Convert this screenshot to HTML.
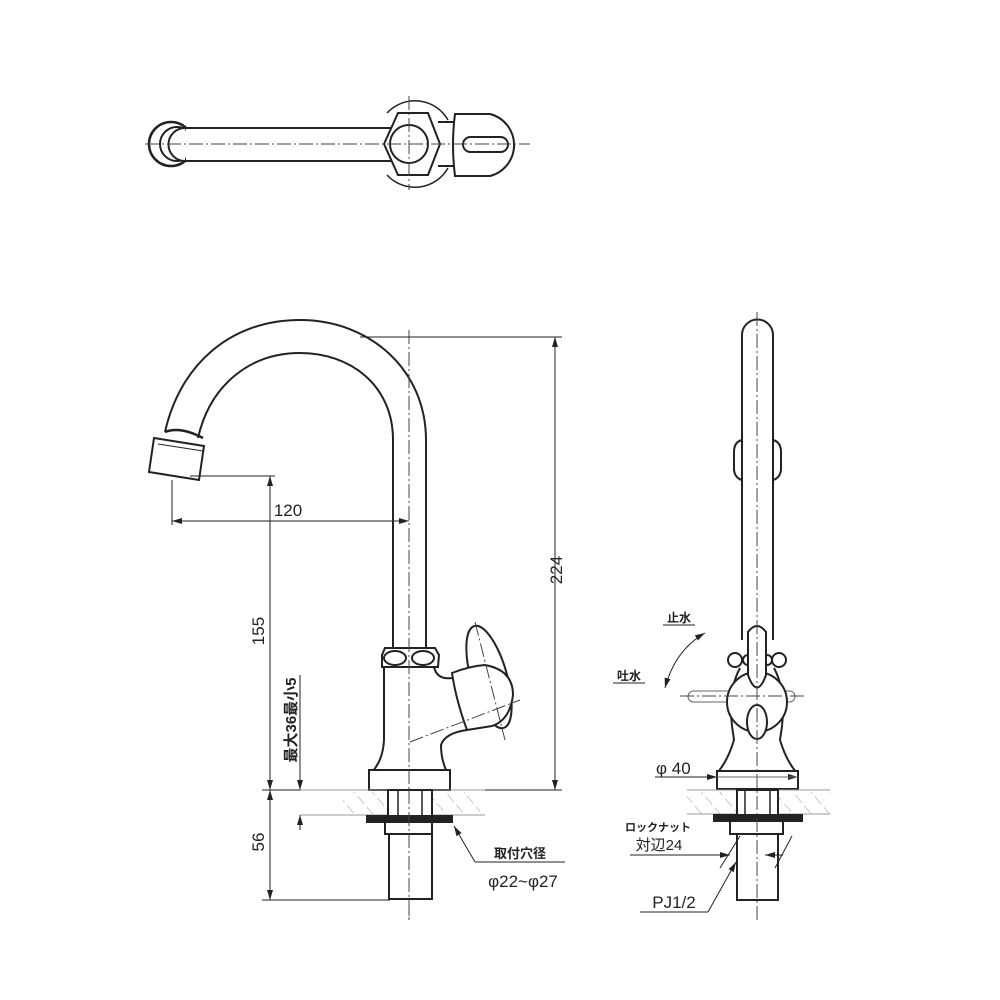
<!DOCTYPE html>
<html><head><meta charset="utf-8"><style>
html,body{margin:0;padding:0;background:#fff}
svg{display:block}
text{font-family:"Liberation Sans","Noto Sans CJK JP",sans-serif;fill:#222}
</style></head><body>
<svg width="1000" height="1000" viewBox="0 0 1000 1000" xmlns="http://www.w3.org/2000/svg">
<defs>
<pattern id="h" width="14" height="14" patternUnits="userSpaceOnUse" patternTransform="rotate(-40)">
<line x1="0" y1="0" x2="0" y2="14" stroke="#999" stroke-width="1" stroke-dasharray="10 4"/>
</pattern>
<marker id="a" markerWidth="10" markerHeight="6" refX="10" refY="3" orient="auto-start-reverse" markerUnits="userSpaceOnUse"><path d="M0,0 L10,3 L0,6 Z" fill="#222"/></marker>
</defs>
<g fill="none" stroke="#222" stroke-width="2">
<!-- TOP VIEW -->
<circle cx="171" cy="144" r="22" stroke-width="2.5" fill="#fff"/>
<circle cx="177" cy="144" r="17" fill="#fff"/>
<path d="M185,128 A16.5,16.5 0 0 0 185,161" fill="#fff"/>
<rect x="186" y="129" width="205" height="31" fill="#fff" stroke="none"/>
<path d="M185,128 L400,128 M185,161 L400,161"/>
<path d="M387,113 A38,38 0 0 1 448,120 M387,175 A38,38 0 0 0 448,168" stroke-width="1.5"/>
<polygon points="398,113 428,113 440,144 428,175 398,175 384,144" fill="#fff"/>
<circle cx="409" cy="144" r="19" fill="#fff"/>
<line x1="438" y1="122" x2="454" y2="122"/><line x1="438" y1="166" x2="454" y2="166"/>
<path d="M455,114 L490,114 A32,32 0 0 1 490,176 L455,176 Q451,144 455,114 Z" fill="#fff"/>
<rect x="463" y="137" width="45" height="15" rx="7.5"/>
<g stroke-width="1" stroke="#444" stroke-dasharray="14 3 2 3"><line x1="145" y1="144" x2="530" y2="144"/><line x1="409" y1="96" x2="409" y2="190"/></g>

<!-- SIDE VIEW -->
<path d="M426,440 L426,648 M393,648 L393,440"/>
<path d="M426,440 C426,370 370,320 300,320 C230,320 180,365 165,432"/>
<path d="M393,440 C393,385 350,353 300,353 C250,353 210,385 198,438"/>
<path d="M165,432 Q180,426 203,438" stroke-width="2.5"/>
<path d="M154,438 L204,446 L199,480 L149,472 Z" fill="#fff"/>
<line x1="158" y1="444" x2="203" y2="451" stroke-width="1"/>
<path d="M385,648 L435,648 L439,655 L438,667 L382,667 L382,655 Z" fill="#fff"/>
<ellipse cx="395" cy="658" rx="11" ry="7"/><ellipse cx="423" cy="658" rx="11" ry="7"/>
<path d="M384,667 L384,740 Q383,760 372,772 M434,667 Q437,680 452,678 M467,730 Q445,733 441,745 Q441,760 447,772"/>
<ellipse cx="489" cy="677" rx="18" ry="53" transform="rotate(-16 489 677)" fill="#fff"/>
<path d="M452,673 Q470,666 485,665 Q513,670 513,695 Q510,720 492,726 L467,730 Q456,700 452,673 Z" fill="#fff"/>
<rect x="369" y="770" width="81" height="20" fill="#fff"/>
<line x1="372" y1="790" x2="447" y2="790"/>
<g stroke-width="1" stroke="#444" stroke-dasharray="14 3 2 3"><line x1="409" y1="330" x2="409" y2="920"/><line x1="410" y1="742" x2="520" y2="700"/><line x1="475" y1="622" x2="505" y2="740"/></g>
<rect x="343" y="792" width="137" height="22" fill="url(#h)" stroke="none"/>
<line x1="300" y1="790" x2="485" y2="790" stroke-width="1" stroke="#999"/>
<line x1="300" y1="815" x2="485" y2="815" stroke-width="1" stroke="#999"/>
<rect x="388" y="790" width="44" height="26" fill="#fff"/>
<line x1="398" y1="790" x2="398" y2="816" stroke-width="1.5"/><line x1="422" y1="790" x2="422" y2="816" stroke-width="1.5"/>
<rect x="367" y="816" width="85" height="6" fill="#222"/>
<rect x="385" y="822" width="47" height="12" fill="#fff"/>
<rect x="389" y="834" width="43" height="65" fill="#fff"/>
<line x1="409" y1="790" x2="409" y2="920" stroke-width="1" stroke="#444" stroke-dasharray="14 3 2 3"/>
<g stroke-width="1">
<line x1="360" y1="337" x2="562" y2="337"/>
<line x1="555" y1="337" x2="555" y2="790" marker-start="url(#a)" marker-end="url(#a)"/>
<line x1="485" y1="790" x2="562" y2="790"/>
<line x1="190" y1="476" x2="275" y2="476"/>
<line x1="172" y1="480" x2="172" y2="525"/>
<line x1="172" y1="521" x2="409" y2="521" marker-start="url(#a)" marker-end="url(#a)"/>
<line x1="270" y1="476" x2="270" y2="790" marker-start="url(#a)" marker-end="url(#a)"/>
<line x1="270" y1="790" x2="270" y2="900" marker-start="url(#a)" marker-end="url(#a)"/>
<line x1="262" y1="900" x2="390" y2="900"/>
<line x1="262" y1="790" x2="300" y2="790"/>
<line x1="300" y1="675" x2="300" y2="790" marker-end="url(#a)"/>
<line x1="300" y1="830" x2="300" y2="815" marker-end="url(#a)"/>
<line x1="475" y1="862" x2="454" y2="826" marker-end="url(#a)"/>
<line x1="475" y1="862" x2="565" y2="862"/>
</g>

<!-- FRONT VIEW -->
<path d="M742,640 L742,335 A15.5,15.5 0 0 1 773,335 L773,640"/>
<path d="M742,440 Q734,442 734,452 L734,470 Q735,478 742,480 M773,440 Q781,442 781,452 L781,470 Q780,478 773,480"/>
<rect x="688" y="691" width="107" height="11" rx="5.5" stroke-width="1" stroke="#666"/>
<path d="M740,668 Q728,690 732,726 L734,740 Q728,760 718,772 M774,668 Q786,690 782,726 L780,740 Q786,760 796,772" fill="#fff"/>
<circle cx="757" cy="702" r="30" fill="#fff"/>
<ellipse cx="757" cy="722" rx="10" ry="17" fill="#fff"/>
<circle cx="735" cy="660" r="7" fill="#fff"/><circle cx="779" cy="660" r="7" fill="#fff"/>
<circle cx="748" cy="660" r="5" fill="#fff"/><circle cx="767" cy="660" r="5" fill="#fff"/>
<path d="M748,632 Q757,620 766,632 L766,675 Q757,700 748,675 Z" fill="#fff"/>
<rect x="717" y="771" width="81" height="18" fill="#fff"/>
<line x1="720" y1="789" x2="796" y2="789"/>
<rect x="687" y="792" width="143" height="22" fill="url(#h)" stroke="none"/>
<line x1="687" y1="790" x2="830" y2="790" stroke-width="1" stroke="#999"/>
<line x1="687" y1="814" x2="830" y2="814" stroke-width="1" stroke="#999"/>
<rect x="737" y="790" width="41" height="25" fill="#fff"/>
<line x1="745" y1="790" x2="745" y2="815" stroke-width="1.5"/><line x1="770" y1="790" x2="770" y2="815" stroke-width="1.5"/>
<rect x="714" y="815" width="88" height="6" fill="#222"/>
<rect x="730" y="821" width="53" height="13" fill="#fff"/>
<rect x="737" y="834" width="41" height="66" fill="#fff"/>
<g stroke-width="1" stroke="#444" stroke-dasharray="14 3 2 3"><line x1="757" y1="312" x2="757" y2="920"/><line x1="680" y1="696" x2="805" y2="696"/></g>
<g stroke-width="1">
<line x1="655" y1="777" x2="717" y2="777" marker-end="url(#a)"/>
<line x1="798" y1="777" x2="778" y2="777" marker-start="url(#a)"/>
<line x1="717" y1="777" x2="798" y2="777" stroke="#666"/>
<line x1="630" y1="855" x2="730" y2="855" marker-end="url(#a)"/>
<line x1="783" y1="855" x2="765" y2="855" marker-end="url(#a)"/>
<line x1="720" y1="868" x2="740" y2="836"/>
<line x1="775" y1="868" x2="792" y2="836"/>
<line x1="640" y1="912" x2="708" y2="912"/>
<line x1="708" y1="912" x2="736" y2="862" marker-end="url(#a)"/>
<line x1="663" y1="625" x2="695" y2="625"/>
<line x1="613" y1="683" x2="645" y2="683"/>
<path d="M705,633 Q675,650 665,688" marker-start="url(#a)" marker-end="url(#a)"/>
</g>
</g>
<g stroke="none">
<text x="288" y="516" font-size="17" text-anchor="middle">120</text>
<text transform="translate(562,570) rotate(-90)" font-size="17" text-anchor="middle">224</text>
<text transform="translate(264,631) rotate(-90)" font-size="17" text-anchor="middle">155</text>
<text transform="translate(264,842) rotate(-90)" font-size="17" text-anchor="middle">56</text>
<text transform="translate(296,720) rotate(-90)" font-size="15" text-anchor="middle" font-weight="bold">最大36最小5</text>
<text x="520" y="858" font-size="13" text-anchor="middle" font-weight="bold">取付穴径</text>
<text x="523" y="887" font-size="17" text-anchor="middle">φ22~φ27</text>
<text x="679" y="622" font-size="12" text-anchor="middle" font-weight="bold">止水</text>
<text x="629" y="680" font-size="12" text-anchor="middle" font-weight="bold">吐水</text>
<text x="656" y="774" font-size="17">φ 40</text>
<text x="658" y="831" font-size="11" text-anchor="middle" font-weight="bold">ロックナット</text>
<text x="659" y="850" font-size="15" text-anchor="middle">対辺24</text>
<text x="674" y="908" font-size="17" text-anchor="middle">PJ1/2</text>
</g>
</svg>
</body></html>
